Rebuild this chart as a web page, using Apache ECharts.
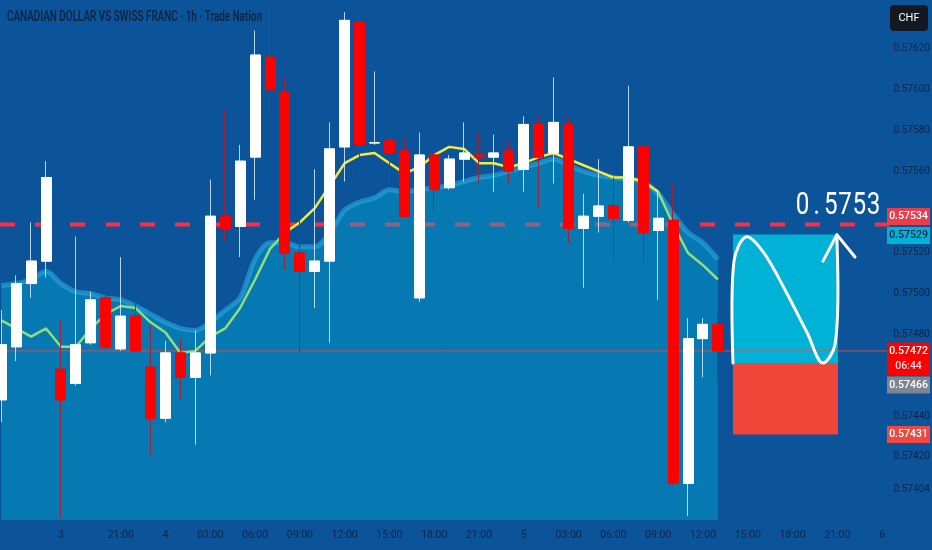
<!DOCTYPE html>
<html><head><meta charset="utf-8">
<script src="https://cdn.jsdelivr.net/npm/echarts@6/dist/echarts.min.js"></script>
<style>html,body{margin:0;padding:0;background:#0b5499;}#c{width:932px;height:550px;}</style>
</head><body><div id="c"></div>
<script>
// ---------- data ----------
const xTickLabels = ['','','','','3','','','','21:00','','','4','','','03:00','','','06:00','','','09:00','','','12:00','','','15:00','','','18:00','','','21:00','','','5','','','03:00','','','06:00','','','09:00','','','12:00','','','15:00','','','18:00','','','21:00','','','6'];
const opens  = [0.57448,0.57474,0.57505,0.57516,0.57463,0.57456,0.57476,0.57498,0.57473,0.57489,0.57464,0.57439,0.57471,0.57459,0.57471,0.57538,0.57533,0.57567,0.57616,0.57599,0.57520,0.57511,0.57516,0.57572,0.57633,0.57574,0.57575,0.57570,0.57498,0.57568,0.57552,0.57566,0.57568,0.57567,0.57570,0.57561,0.57583,0.57569,0.57583,0.57532,0.57538,0.57543,0.57536,0.57572,0.57531,0.57536,0.57407,0.57478,0.57485];
const closes = [0.57475,0.57505,0.57516,0.57557,0.57448,0.57475,0.57497,0.57474,0.57489,0.57472,0.57439,0.57471,0.57459,0.57471,0.57538,0.57532,0.57565,0.57617,0.57600,0.57520,0.57511,0.57516,0.57571,0.57634,0.57573,0.57574,0.57569,0.57538,0.57568,0.57551,0.57566,0.57569,0.57567,0.57569,0.57560,0.57583,0.57567,0.57584,0.57532,0.57538,0.57543,0.57537,0.57572,0.57530,0.57537,0.57407,0.57478,0.57485,0.57472];
const lows   = [0.57437,0.57467,0.57498,0.57508,0.57390,0.57455,0.57475,0.57473,0.57472,0.57471,0.57421,0.57437,0.57448,0.57426,0.57460,0.57526,0.57518,0.57546,0.57589,0.57512,0.57471,0.57493,0.57476,0.57555,0.57554,0.57573,0.57553,0.57537,0.57496,0.57540,0.57551,0.57555,0.57554,0.57550,0.57554,0.57550,0.57542,0.57554,0.57525,0.57503,0.57530,0.57516,0.57535,0.57515,0.57497,0.57406,0.57391,0.57459,0.57457];
const highs  = [0.57492,0.57509,0.57535,0.57565,0.57487,0.57528,0.57501,0.57535,0.57518,0.57496,0.57485,0.57477,0.57478,0.57482,0.57556,0.57590,0.57573,0.57629,0.57641,0.57606,0.57542,0.57561,0.57584,0.57638,0.57639,0.57609,0.57579,0.57576,0.57579,0.57570,0.57568,0.57584,0.57579,0.57578,0.57575,0.57587,0.57587,0.57606,0.57587,0.57549,0.57566,0.57557,0.57602,0.57608,0.57551,0.57554,0.57488,0.57488,0.57490];
const maValues   = [0.57487,0.57483,0.57479,0.57483,0.57474,0.57474,0.57483,0.57490,0.57494,0.57493,0.57486,0.57481,0.57471,0.57472,0.57479,0.57483,0.57493,0.57507,0.57522,0.57530,0.57535,0.57542,0.57553,0.57564,0.57568,0.57569,0.57564,0.57559,0.57562,0.57568,0.57572,0.57571,0.57564,0.57564,0.57562,0.57564,0.57567,0.57569,0.57566,0.57563,0.57560,0.57557,0.57557,0.57555,0.57550,0.57534,0.57520,0.57514,0.57507];
const bandValues = [0.57504,0.57505,0.57507,0.57511,0.57505,0.57501,0.57500,0.57498,0.57497,0.57494,0.57490,0.57486,0.57483,0.57482,0.57486,0.57492,0.57498,0.57517,0.57525,0.57525,0.57523,0.57523,0.57530,0.57541,0.57545,0.57547,0.57551,0.57550,0.57551,0.57552,0.57553,0.57555,0.57557,0.57558,0.57560,0.57562,0.57564,0.57566,0.57563,0.57560,0.57558,0.57557,0.57556,0.57555,0.57549,0.57539,0.57530,0.57525,0.57517];
const yTickValues = [0.5762,0.576,0.5758,0.5756,0.5752,0.575,0.5748,0.5744,0.5742,0.57404];
const yMin = 0.573891, yMax = 0.57644;
const xStart = -0.5, xEnd = 59.5;
const dashedLevel = 0.57534;
const lastPrice = 0.57472;
const targetPrice = 0.57529, entryPrice = 0.57466, stopPrice = 0.57431;
const boxStart = 49.01, boxEnd = 56.04;
const curveX = [49.01,48.94,49.08,49.95,51.08,52.56,53.97,55.04,55.84,56.04,55.97];
const curveY = [0.57466,0.57492,0.57516,0.57528,0.57520,0.57501,0.57481,0.57466,0.57475,0.57502,0.57528];
const arrowX = [55.04,55.97,57.18];
const arrowY = [0.57516,0.57529,0.57518];
const tagValues = [0.57534,0.57529,0.57472,0.57466,0.57431];
const titleText = 'CANADIAN DOLLAR VS SWISS FRANC · 1h · Trade Nation';
const bigLabel = '0.5753';
const bigLabelAt = [56.04, 0.57543];

// categories: hourly timestamps (Fri 1st 13:00-16:00, then from Sun 3rd 17:00)
const times = [];
for (let i = 0; i < 60; i++) {
  let d, h;
  if (i < 4) { d = 1; h = 13 + i; } else { const t = 17 + (i - 4); d = 3 + Math.floor(t / 24); h = t % 24; }
  times.push('2025-08-0' + d + ' ' + String(h).padStart(2, '0') + ':00');
}

// ---------- styling ----------
const AXISFONT = "Roboto,'Liberation Sans',sans-serif";
const axisText = '#0a2446';
const candleData = opens.map((o, i) => [o, closes[i], lows[i], highs[i]]);
const bodyData = opens.map((o, i) => [o, closes[i], Math.min(o, closes[i]), Math.max(o, closes[i])]);
const curveData = curveX.map((x, i) => [x, curveY[i]]);
const arrowData = arrowX.map((x, i) => [x, arrowY[i]]);

const chart = echarts.init(document.getElementById('c'));
const option = {
  backgroundColor: '#0b5499',
  animation: false,
  grid: { left: -6.2, right: 42.4, top: 0, bottom: 30, containLabel: false, outerBoundsMode: 'none' },
  xAxis: [
    { type: 'category', data: times, boundaryGap: true,
      axisLine: { show: false }, axisTick: { show: false }, splitLine: { show: false },
      axisLabel: { interval: 0, formatter: (v, i) => xTickLabels[i], color: axisText, fontSize: 10.5, margin: 10, fontFamily: AXISFONT } },
    { type: 'value', min: xStart, max: xEnd, show: false }
  ],
  yAxis: [{ type: 'value', position: 'right', min: yMin, max: yMax,
    axisLine: { show: false }, axisTick: { show: false }, splitLine: { show: false },
    axisLabel: { customValues: yTickValues, formatter: v => v.toFixed(5), color: axisText, fontSize: 10, margin: 4, fontFamily: AXISFONT } }],
  visualMap: [{ type: 'piecewise', show: false, seriesIndex: 3, dimension: 0,
    pieces: [{ lt: 18.7, color: '#90dd7a' }, { gte: 18.7, lt: 43.8, color: '#f3ea3c' }, { gte: 43.8, color: '#90dd7a' }] }],
  series: [
    { name: 'level', type: 'line', xAxisIndex: 1, data: [[xStart, dashedLevel], [xEnd, dashedLevel]], z: 1, symbol: 'none', silent: true,
      lineStyle: { color: '#ff2e44', width: 4, type: [15, 20], dashOffset: -6.2, opacity: 1 } },
    { name: 'band', type: 'line', data: bandValues, z: 2, symbol: 'none', smooth: 0.3,
      lineStyle: { color: 'rgba(45,175,230,0.55)', width: 5 },
      areaStyle: { color: 'rgba(0,172,212,0.6)' } },
    { name: 'last', type: 'line', xAxisIndex: 1, data: [[xStart, lastPrice], [xEnd, lastPrice]], z: 3, symbol: 'none', silent: true,
      lineStyle: { color: 'rgba(255,70,70,0.75)', width: 1 } },
    { name: 'ma', type: 'line', data: maValues, z: 4, symbol: 'none',
      lineStyle: { width: 2.5 } },
    { name: 'wicks', type: 'candlestick', data: candleData, z: 5, barWidth: 10.5,
      itemStyle: { color: 'rgba(0,0,0,0)', color0: 'rgba(0,0,0,0)', borderColor: 'rgba(215,235,250,0.85)', borderColor0: '#9b2335', borderWidth: 1 } },
    { name: 'bodies', type: 'candlestick', data: bodyData, z: 6, barWidth: 10.5,
      itemStyle: { color: '#ffffff', color0: '#ff0000', borderColor: '#ffffff', borderColor0: '#ff0000', borderWidth: 1 } },
    { name: 'position', type: 'line', xAxisIndex: 1, data: [], z: 7,
      markArea: { silent: true, label: { show: false },
        data: [
          [{ coord: [boxStart, targetPrice], itemStyle: { color: '#00b2d6', opacity: 1 } }, { coord: [boxEnd, entryPrice] }],
          [{ coord: [boxStart, entryPrice], itemStyle: { color: '#f2453a', opacity: 1 } }, { coord: [boxEnd, stopPrice] }]
        ] } },
    { name: 'curve', type: 'line', xAxisIndex: 1, data: curveData, z: 8, symbol: 'none', smooth: 0.35,
      lineStyle: { color: '#ffffff', width: 3, cap: 'round', join: 'round' } },
    { name: 'arrow', type: 'line', xAxisIndex: 1, data: arrowData, z: 8, symbol: 'none',
      lineStyle: { color: '#ffffff', width: 3, cap: 'round', join: 'round' } }
  ]
};
chart.setOption(option);

// ---------- overlay texts (positions from the chart's own scales) ----------
const mctx = document.createElement('canvas').getContext('2d');
function textW(t, font) { mctx.font = font; return mctx.measureText(t).width; }
const py = v => chart.convertToPixel({ yAxisIndex: 0 }, v);
const px = v => chart.convertToPixel({ xAxisIndex: 1 }, v);

const tagStyles = [
  { bg: '#eb3c4b', fg: '#ffffff', shift: -8 },
  { bg: '#00b2d6', fg: '#0a2540', shift: 1 },
  { bg: '#ff0000', fg: '#ffffff', shift: 0, sub: '06:44' },
  { bg: '#7e8591', fg: '#ffffff', shift: 22 },
  { bg: '#f0483e', fg: '#ffffff', shift: 0 }
];
const tagFont = "500 10.5px " + AXISFONT;
const graphics = [];
tagValues.forEach((v, i) => {
  const s = tagStyles[i];
  const cy = py(v) + s.shift;
  const h = s.sub ? 33 : 17;
  graphics.push({ type: 'rect', z: 100, shape: { x: 887, y: cy - 8.5, width: 43, height: h }, style: { fill: s.bg } });
  graphics.push({ type: 'text', z: 101, x: 908.5, y: cy, style: { text: v.toFixed(5), font: tagFont, fill: s.fg, align: 'center', verticalAlign: 'middle' } });
  if (s.sub) graphics.push({ type: 'text', z: 101, x: 908.5, y: cy + 15, style: { text: s.sub, font: tagFont, fill: 'rgba(255,255,255,0.85)', align: 'center', verticalAlign: 'middle' } });
});
// CHF currency box
graphics.push({ type: 'rect', z: 100, shape: { x: 890, y: 5, width: 38, height: 26, r: 4 }, style: { fill: '#141821' } });
graphics.push({ type: 'text', z: 101, x: 909, y: 18, style: { text: 'CHF', font: '11px ' + AXISFONT, fill: '#ffffff', align: 'center', verticalAlign: 'middle' } });
// title
const titleFont = "600 14px Roboto,'Liberation Sans',sans-serif";
graphics.push({ type: 'text', z: 101, x: 7, y: 17, scaleX: 255 / textW(titleText, titleFont),
  style: { text: titleText, font: titleFont, fill: '#0b2443', align: 'left', verticalAlign: 'middle' } });
// big target label (letter-spaced by drawing each glyph at an even advance)
const bigFont = "31px Roboto,'Liberation Sans',sans-serif";
const bigAdv = 14.2;
const bx = px(bigLabelAt[0]), by = py(bigLabelAt[1]);
bigLabel.split('').forEach((ch, k) => {
  graphics.push({ type: 'text', z: 101, x: bx + (k - (bigLabel.length - 1) / 2) * bigAdv, y: by, scaleX: 0.78,
    style: { text: ch, font: bigFont, fill: '#ffffff', align: 'center', verticalAlign: 'middle' } });
});
chart.setOption({ graphic: graphics });
</script></body></html>
